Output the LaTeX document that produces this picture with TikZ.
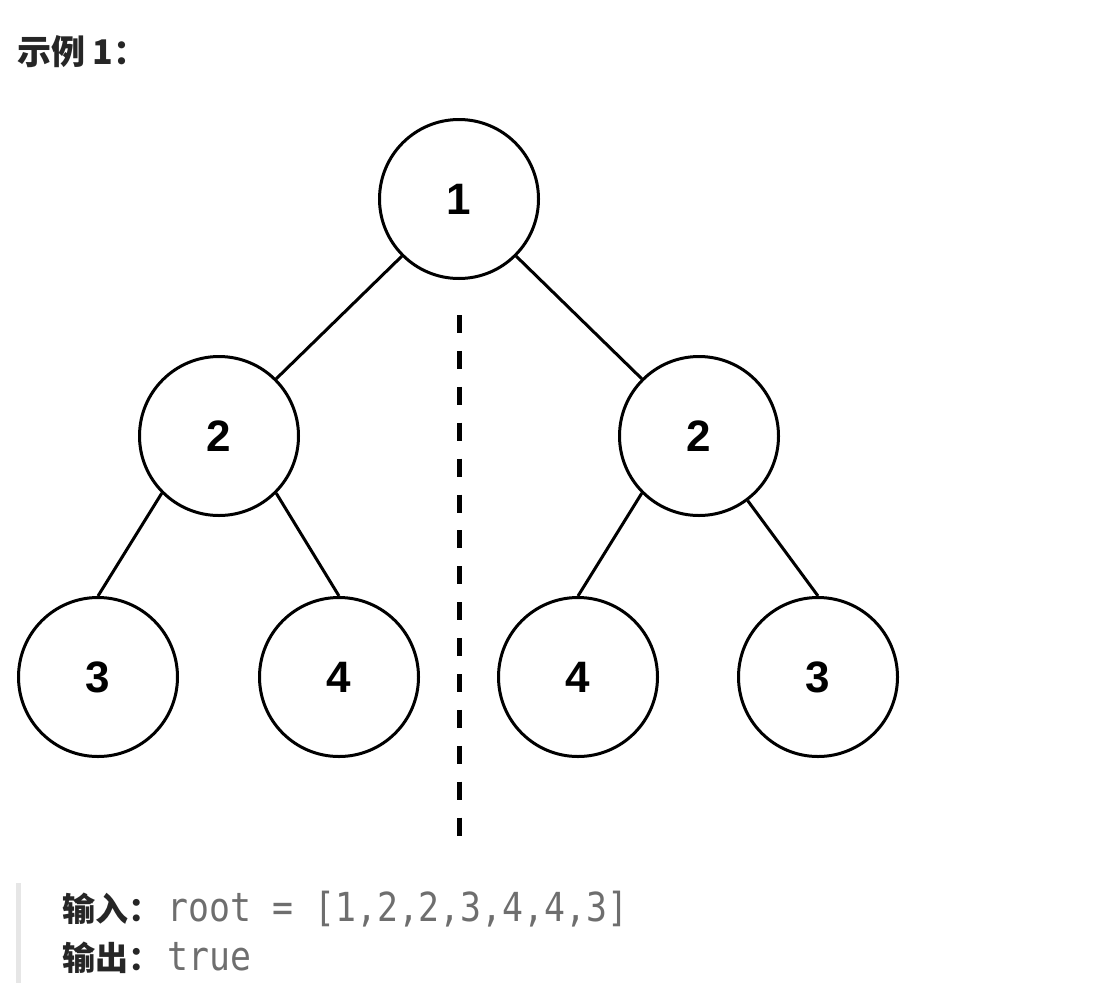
\documentclass[tikz,border=0pt]{standalone}
\usepackage{fontspec}
\usepackage{xcolor}
\usetikzlibrary{positioning}
\setmainfont{Liberation Sans}
\newfontfamily\cjk{Noto Sans CJK SC}
\newfontfamily\codefont{DejaVu Sans Mono}[FakeStretch=0.87]
\definecolor{textdark}{HTML}{262626}
\definecolor{codegray}{HTML}{6E6E6E}
\definecolor{quotebar}{HTML}{E6E6E6}

\begin{document}
\begin{tikzpicture}[x=1pt,y=-1pt,
    treenode/.style={circle,draw,line width=3pt,minimum size=159pt,inner sep=0pt,
        font=\bfseries\fontsize{44}{44}\selectfont},
    treeedge/.style={line width=3pt},
    labeltext/.style={anchor=base west,inner sep=0pt,text=textdark,
        font=\cjk\bfseries\fontsize{33}{33}\selectfont},
    codetext/.style={anchor=base west,inner sep=0pt,text=codegray,
        font=\codefont\fontsize{40}{40}\selectfont}]
\useasboundingbox (0,0) rectangle (1110,996);

\node[labeltext,font=\cjk\bfseries\fontsize{34}{34}\selectfont] (title) at (17,64) {示例 1：};

% tree
\node[treenode] (n1) at (459,199) {1};
\node[treenode] (n2l) at (219,436) {2};
\node[treenode] (n2r) at (699,436) {2};
\node[treenode] (n3l) at (98,677) {3};
\node[treenode] (n4l) at (339,677) {4};
\node[treenode] (n4r) at (578,677) {4};
\node[treenode] (n3r) at (818,677) {3};

\draw[treeedge] (n1.south west) -- (n2l.north east);
\draw[treeedge] (n1.south east) -- (n2r.north west);
\draw[treeedge] (n2l.south west) -- (n3l.north);
\draw[treeedge] (n2l.south east) -- (n4l.north);
\draw[treeedge] (n2r.south west) -- (n4r.north);
\draw[treeedge] (n2r.-53) -- (n3r.north);

% mirror axis
\coordinate (axistop) at (459,315);
\coordinate (axisbottom) at (459,837);
\draw[line width=5pt,dash pattern=on 18pt off 17.9pt] (axistop) -- (axisbottom);

% example block
\fill[quotebar] (16,883) rectangle (21,983);
\node[labeltext] (inlabel) at (62,921) {输入：};
\node[codetext] (invalue) at ([xshift=6pt]inlabel.base east) {root = [1,2,2,3,4,4,3]};
\node[labeltext] (outlabel) at (62,970) {输出：};
\node[codetext] (outvalue) at ([xshift=6pt]outlabel.base east) {true};
\end{tikzpicture}
\end{document}
